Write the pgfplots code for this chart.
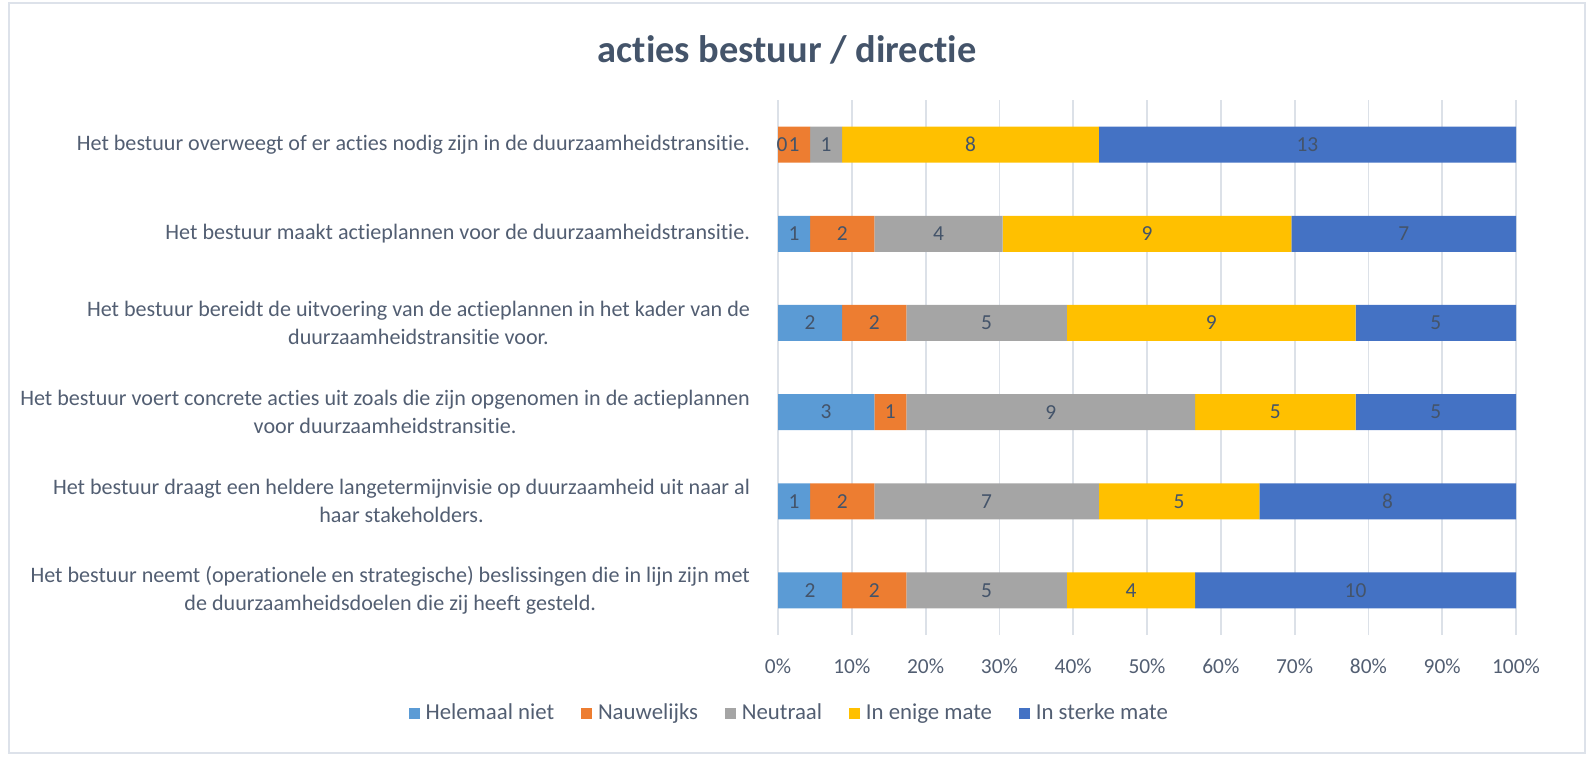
\documentclass[border=0pt]{standalone}
\usepackage{pgfplots}
\pgfplotsset{compat=1.18}
\usepackage{fontspec}
\setmainfont{Carlito}[Ligatures=NoCommon]
\definecolor{cA}{HTML}{5B9BD5}
\definecolor{cB}{HTML}{ED7D31}
\definecolor{cC}{HTML}{A5A5A5}
\definecolor{cD}{HTML}{FFC000}
\definecolor{cE}{HTML}{4472C4}
\definecolor{txt}{HTML}{44546A}
\definecolor{lbl}{HTML}{525E72}
\definecolor{gridc}{HTML}{DCE1E8}
\definecolor{framec}{HTML}{DDE2EA}
\begin{document}
\begin{tikzpicture}
\useasboundingbox (0,0) rectangle (794pt,378pt);
\draw[draw=framec, line width=1.3pt] (4.5pt,1.5pt) rectangle (792.5pt,376.5pt);
\node[font=\fontsize{19.2}{22}\selectfont\bfseries, text=txt] at (393.5pt,353pt) {acties bestuur / directie};
\begin{axis}[
  at={(389pt,60.5pt)}, anchor=south west,
  scale only axis, width=369pt, height=267.5pt,
  xbar stacked, bar width=18pt,
  xmin=0, xmax=23, ymin=-0.5, ymax=5.5,
  axis line style={draw=none},
  major tick length=0pt,
  /pgf/number format/assume math mode=true,
  xmajorgrids, grid style={draw=gridc, line width=0.9pt},
  xtick={0,2.3,4.6,6.9,9.2,11.5,13.8,16.1,18.4,20.7,23},
  xticklabels={0\%,10\%,20\%,30\%,40\%,50\%,60\%,70\%,80\%,90\%,100\%},
  xticklabel style={font=\fontsize{10.7}{13}\selectfont, text=lbl, yshift=-8.5pt},
  ytick={0,1,2,3,4,5},
  yticklabels={
    {Het bestuur neemt (operationele en strategische) beslissingen die in lijn zijn met\\de duurzaamheidsdoelen die zij heeft gesteld.},
    {Het bestuur draagt een heldere langetermijnvisie op duurzaamheid uit naar al\\haar stakeholders.},
    {Het bestuur voert concrete acties uit zoals die zijn opgenomen in de actieplannen\\voor duurzaamheidstransitie.},
    {Het bestuur bereidt de uitvoering van de actieplannen in het kader van de\\duurzaamheidstransitie voor.},
    {Het bestuur maakt actieplannen voor de duurzaamheidstransitie.},
    {Het bestuur overweegt of er acties nodig zijn in de duurzaamheidstransitie.}},
  yticklabel style={font=\fontsize{11.05}{14}\selectfont, text=lbl, align=center, xshift=-10.5pt},
  nodes near coords,
  every node near coord/.append style={font=\fontsize{10.7}{13}\selectfont, text=txt, anchor=center},
  legend columns=5,
  legend style={at={(0.016,-0.146)}, anchor=center, draw=none, fill=none,
    font=\fontsize{11.4}{13}\selectfont, text=lbl,
    /tikz/every odd column/.append style={column sep=1.5pt},
    /tikz/every even column/.append style={column sep=12pt},
    nodes={inner sep=1.5pt}},
  legend image code/.code={\fill[#1] (0pt,-2.7pt) rectangle (5.4pt,2.7pt);},
]
\addplot[fill=cA, draw=none] coordinates {(2,0) (1,1) (3,2) (2,3) (1,4) (0,5)};
\addplot[fill=cB, draw=none] coordinates {(2,0) (2,1) (1,2) (2,3) (2,4) (1,5)};
\addplot[fill=cC, draw=none] coordinates {(5,0) (7,1) (9,2) (5,3) (4,4) (1,5)};
\addplot[fill=cD, draw=none] coordinates {(4,0) (5,1) (5,2) (9,3) (9,4) (8,5)};
\addplot[fill=cE, draw=none] coordinates {(10,0) (8,1) (5,2) (5,3) (7,4) (13,5)};
\legend{Helemaal niet, Nauwelijks, Neutraal, In enige mate, In sterke mate}
\end{axis}
\node[font=\fontsize{10.7}{13}\selectfont, text=txt] at (391pt,305.7pt) {0};
\end{tikzpicture}
\end{document}
